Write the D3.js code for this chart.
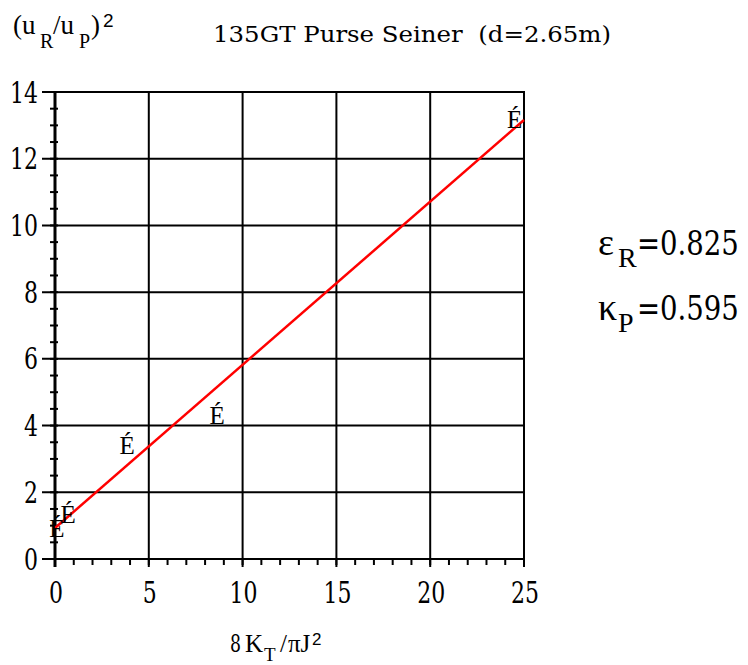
<!DOCTYPE html>
<html><head><meta charset="utf-8">
<script src="https://cdn.jsdelivr.net/npm/d3@7"></script>
<style>body{margin:0;background:#fff}svg{display:block}</style>
</head><body><svg id="c" width="748" height="665"></svg>
<script>
// Data
const xTicks = [0, 5, 10, 15, 20, 25];
const yTicks = [0, 2, 4, 6, 8, 10, 12, 14];
const pointsX = [0.1, 0.7, 3.84, 8.64, 24.5];
const pointsY = [0.93, 1.35, 3.42, 4.32, 13.2];
const fitX = [0, 25];
const fitY = [0.93, 13.16];
const title = "135GT Purse Seiner\u00a0\u00a0(d=2.65m)";
const markerGlyph = "É";
const epsR = "=0.825";
const kapP = "=0.595";

const SERIF = "'Liberation Serif', 'Times New Roman', serif";
const DSERIF = "'DejaVu Serif', serif";
const SANS = "'Liberation Sans', Arial, sans-serif";
const svg = d3.select("#c");
const x = d3.scaleLinear().domain([0, 25]).range([55, 524]);
const y = d3.scaleLinear().domain([0, 14]).range([559, 92]);

function t(fam, size, xx, yy, s) {
  return svg.append("text").attr("font-family", fam).attr("font-size", size)
    .attr("x", xx).attr("y", yy).attr("fill", "#000").text(s);
}

// minor ticks y
svg.append("g").selectAll("line").data(d3.range(0, 14.01, 0.5)).join("line")
  .attr("x1", x(0) - 5).attr("x2", x(0) + 3)
  .attr("y1", d => y(d)).attr("y2", d => y(d))
  .attr("stroke", "#000").attr("stroke-width", 2);
// minor ticks x
svg.append("g").selectAll("line").data(d3.range(0, 25.01, 1)).join("line")
  .attr("x1", d => x(d)).attr("x2", d => x(d))
  .attr("y1", y(0)).attr("y2", y(0) + 6)
  .attr("stroke", "#000").attr("stroke-width", 2);
// grid horizontal
svg.append("g").selectAll("line").data(yTicks).join("line")
  .attr("x1", x(0) - 13).attr("x2", x(25) + 1)
  .attr("y1", d => y(d)).attr("y2", d => y(d))
  .attr("stroke", "#000").attr("stroke-width", 2);
// grid vertical
svg.append("g").selectAll("line").data(xTicks).join("line")
  .attr("x1", d => x(d)).attr("x2", d => x(d))
  .attr("y1", y(14) - 1).attr("y2", y(0) + 8)
  .attr("stroke", "#000").attr("stroke-width", 2);
// y axis thicker
svg.append("line").attr("x1", x(0)).attr("x2", x(0)).attr("y1", y(14) - 1).attr("y2", y(0) + 8)
  .attr("stroke", "#000").attr("stroke-width", 3);

// tick labels
svg.append("g").selectAll("text").data(yTicks).join("text")
  .attr("font-family", DSERIF).attr("font-size", 29).attr("fill", "#000")
  .attr("x", 38).attr("y", d => y(d) + 10.5).attr("text-anchor", "end")
  .attr("textLength", d => String(d).length * 14).attr("lengthAdjust", "spacingAndGlyphs")
  .text(d => d);
svg.append("g").selectAll("text").data(xTicks).join("text")
  .attr("font-family", DSERIF).attr("font-size", 29).attr("fill", "#000")
  .attr("x", d => x(d) + 1).attr("y", 603).attr("text-anchor", "middle")
  .attr("textLength", d => String(d).length * 14).attr("lengthAdjust", "spacingAndGlyphs")
  .text(d => d);

// fit line
const line = d3.line().x(d => x(d[0])).y(d => y(d[1]));
svg.append("path").datum(fitX.map((v, i) => [v, fitY[i]])).attr("d", line)
  .attr("fill", "none").attr("stroke", "#ff0000").attr("stroke-width", 2.5);

// markers
svg.append("g").selectAll("text").data(pointsX.map((v, i) => [v, pointsY[i]])).join("text")
  .attr("font-family", SERIF).attr("font-size", 25).attr("fill", "#000")
  .attr("x", d => x(d[0])).attr("y", d => y(d[1]) + 9).attr("text-anchor", "middle")
  .text(markerGlyph);

// title
t(DSERIF, 23, 213, 42, title).attr("textLength", 398).attr("lengthAdjust", "spacingAndGlyphs");

// y title (u_R/u_P)^2
t(SERIF, 27, 13, 34, "(u");
t(SERIF, 20, 40, 48, "R");
t(SERIF, 27, 53, 34, "/u");
t(SERIF, 20, 79, 48, "P");
t(SERIF, 27, 91, 34, ")");
t(SANS, 19, 103, 27, "2");

// x title 8K_T/πJ^2
t(DSERIF, 24, 230, 652, "8").attr("textLength", 11).attr("lengthAdjust", "spacingAndGlyphs");
t(SERIF, 25, 245, 652, "K");
t(SERIF, 19, 264, 661, "T");
t(SERIF, 25, 280, 652, "/");
t(SERIF, 25, 288, 652, "πJ");
t(SANS, 17, 312, 645, "2");

// parameters
function scaled(xx, yy, s) {
  svg.append("g").attr("transform", `translate(${xx},${yy}) scale(0.81,1)`)
    .append("text").attr("font-family", DSERIF).attr("font-size", 34).attr("fill", "#000")
    .attr("x", 0).attr("y", 0).text(s);
}
t(SERIF, 38, 598, 255, "ε");
t(SERIF, 28, 618, 267, "R");
scaled(637, 255, epsR);
t(SERIF, 38, 598, 320, "κ");
t(SERIF, 28, 618, 332, "P");
scaled(637, 320, kapP);
</script></body></html>
